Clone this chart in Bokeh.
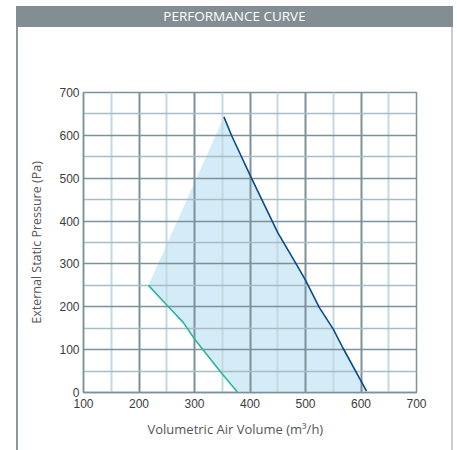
from bokeh.plotting import figure
from bokeh.models import Div, FixedTicker, Range1d, Title
from bokeh.layouts import column
from bokeh.embed import file_html
from bokeh.resources import INLINE

# --- data ---
title_text = "PERFORMANCE CURVE"
x_label = "Volumetric Air Volume (m³/h)"
y_label = "External Static Pressure (Pa)"

x_ticks = [100, 200, 300, 400, 500, 600, 700]
x_minor = [150, 250, 350, 450, 550, 650]
y_ticks = [0, 100, 200, 300, 400, 500, 600, 700]
y_minor = [50, 150, 250, 350, 450, 550, 650]

# minimum-speed curve (green)
low_x = [217, 250, 280, 300, 350, 378]
low_y = [250, 204, 163, 125, 43, 0]

# maximum-speed curve (blue)
high_x = [353, 367, 402, 450, 480, 500, 525, 550, 567, 610]
high_y = [643, 599, 502, 373, 307, 262, 198, 148, 105, 3]

# operating area polygon built from the two curves
area_x = low_x + [high_x[-1]] + high_x[::-1]
area_y = low_y + [0] + high_y[::-1]

MAJOR = "#7d9198"
MINOR_V = "#c4d9e1"
MINOR_H = "#a9bcc3"

header = Div(
    text=title_text,
    width=437,
    height=21,
    margin=(6, 0, 0, 16),
    styles={
        "background-color": "#828d94",
        "color": "white",
        "font-family": "'Open Sans', sans-serif",
        "font-size": "13.5px",
        "text-align": "center",
        "line-height": "21px",
    },
)

p = figure(
    width=437,
    height=423,
    margin=(0, 0, 0, 16),
    x_range=Range1d(100, 700),
    y_range=Range1d(0, 700),
    output_backend="svg",
    toolbar_location=None,
    min_border_left=65,
    min_border_right=39,
    min_border_top=65,
    min_border_bottom=58,
)
p.styles = {
    "border-left": "2px solid #8b979d",
    "border-right": "2px solid #c9ced1",
    "box-sizing": "border-box",
}

p.patch(area_x, area_y, fill_color="#d3ecf7", line_color=None, level="image")
p.line(low_x, low_y, line_color="#2bb59a", line_width=1.6)
p.line(high_x, high_y, line_color="#0d4a8c", line_width=1.6)

p.xaxis.ticker = FixedTicker(ticks=x_ticks, minor_ticks=x_minor)
p.yaxis.ticker = FixedTicker(ticks=y_ticks, minor_ticks=y_minor)

p.xgrid.grid_line_color = MAJOR
p.xgrid.grid_line_width = 2
p.xgrid.minor_grid_line_color = MINOR_V
p.xgrid.minor_grid_line_width = 2
p.ygrid.grid_line_color = MAJOR
p.ygrid.grid_line_width = 1.5
p.ygrid.minor_grid_line_color = MINOR_H
p.ygrid.minor_grid_line_width = 1.5

p.outline_line_color = MAJOR
p.outline_line_width = 1.5

for ax in (p.xaxis, p.yaxis):
    ax.axis_line_color = MAJOR
    ax.axis_line_width = 1.5
    ax.major_tick_line_color = None
    ax.minor_tick_line_color = None
    ax.major_tick_out = 0
    ax.major_tick_in = 0
    ax.minor_tick_out = 0
    ax.minor_tick_in = 0
    ax.major_label_text_font = "Liberation Sans"
    ax.major_label_text_font_size = "12px"
    ax.major_label_text_color = "#3c3c3c"
    ax.axis_label_text_font = "Open Sans"
    ax.axis_label_text_font_style = "normal"
    ax.axis_label_text_color = "#555555"

p.yaxis.axis_label = y_label
p.yaxis.axis_label_text_font_size = "12.5px"
p.xaxis.major_label_standoff = 6
p.yaxis.major_label_standoff = 4
p.yaxis.axis_label_standoff = 11

# x-axis title, slightly left of the plot centre as in the reference
x_title = Title(
    text=x_label,
    align="left",
    offset=64,
    standoff=14,
    text_font="Open Sans",
    text_font_size="13px",
    text_font_style="normal",
    text_color="#555555",
)
p.add_layout(x_title, "below")

layout = column(header, p)
open("out.html", "w").write(file_html(layout, INLINE))
